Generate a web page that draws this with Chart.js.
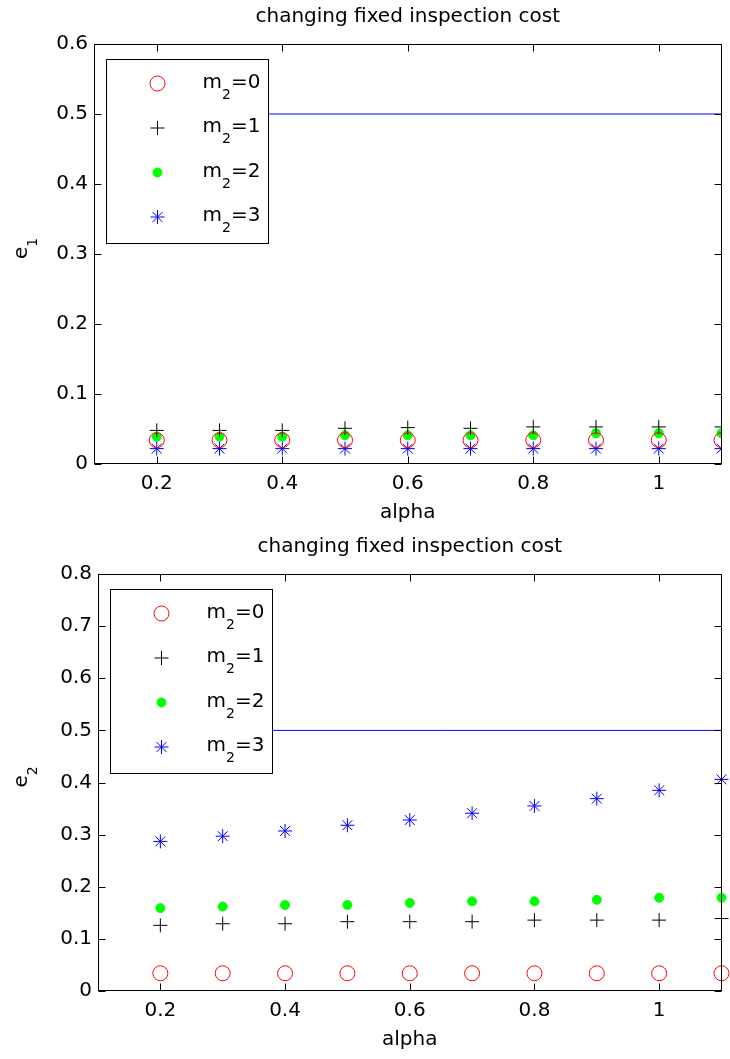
<!DOCTYPE html>
<html>
<head>
<meta charset="utf-8">
<title>changing fixed inspection cost</title>
<script src="https://cdn.jsdelivr.net/npm/chart.js@4.4.1/dist/chart.umd.min.js"></script>
<style>
  body { margin: 0; background: #fff; }
  #wrap { position: relative; width: 730px; height: 1059px; }
  .panel { position: absolute; left: 0; width: 730px; }
  #top-panel { top: 0; height: 530px; }
  #bottom-panel { top: 530px; height: 529px; }
</style>
</head>
<body>
<div id="wrap">
  <div class="panel" id="top-panel"><canvas id="e1-chart" width="730" height="530"></canvas></div>
  <div class="panel" id="bottom-panel"><canvas id="e2-chart" width="730" height="529"></canvas></div>
</div>
<script>
// x values (alpha) shared by both panels
const alphaValues = [0.2, 0.3, 0.4, 0.5, 0.6, 0.7, 0.8, 0.9, 1.0, 1.1];

// e1 per m2 (top panel)
const e1M0 = [0.034, 0.034, 0.034, 0.034, 0.034, 0.034, 0.034, 0.034, 0.034, 0.034];
const e1M1 = [0.048, 0.048, 0.048, 0.051, 0.052, 0.051, 0.053, 0.053, 0.053, 0.053];
const e1M2 = [0.039, 0.039, 0.039, 0.041, 0.041, 0.041, 0.041, 0.044, 0.044, 0.044];
const e1M3 = [0.022, 0.022, 0.022, 0.022, 0.022, 0.022, 0.022, 0.022, 0.022, 0.022];

// e2 per m2 (bottom panel)
const e2M0 = [0.034, 0.034, 0.034, 0.034, 0.034, 0.034, 0.034, 0.034, 0.034, 0.034];
const e2M1 = [0.126, 0.129, 0.129, 0.133, 0.133, 0.133, 0.136, 0.136, 0.136, 0.139];
const e2M2 = [0.159, 0.162, 0.165, 0.165, 0.169, 0.172, 0.172, 0.175, 0.179, 0.179];
const e2M3 = [0.287, 0.297, 0.307, 0.318, 0.328, 0.341, 0.355, 0.369, 0.385, 0.406];

// horizontal reference line at 0.5 (starts under the legend)
const refLineX = [0.2, 1.1];
const refLineY = [0.5, 0.5];

// axis ticks
const xTickValues = [0.2, 0.4, 0.6, 0.8, 1.0];
const xTickLabels = ['0.2', '0.4', '0.6', '0.8', '1'];
const e1TickValues = [0, 0.1, 0.2, 0.3, 0.4, 0.5, 0.6];
const e1TickLabels = ['0', '0.1', '0.2', '0.3', '0.4', '0.5', '0.6'];
const e2TickValues = [0, 0.1, 0.2, 0.3, 0.4, 0.5, 0.6, 0.7, 0.8];
const e2TickLabels = ['0', '0.1', '0.2', '0.3', '0.4', '0.5', '0.6', '0.7', '0.8'];

const seriesNames = ['0', '1', '2', '3'];
const titleText = 'changing fixed inspection cost';

const FONT = '"DejaVu Sans", Verdana, sans-serif';
const mainFont = { family: FONT, size: 20, weight: 'normal' };

// marker look for m2 = 0..3 (circle, plus, dot, star)
const markerStyles = [
    { shape: 'circle', radius: 7.5, color: '#ff0000', fill: 'rgba(0,0,0,0)' },
    { shape: 'cross', radius: 7, color: '#000000', fill: '#000000' },
    { shape: 'circle', radius: 4.5, color: '#00ff00', fill: '#00ff00' },
    { shape: 'star', radius: 7, color: '#0000ff', fill: '#0000ff' }
];

function markerSet(index, ys, clip) {
    const st = markerStyles[index];
    return {
        type: 'scatter',
        label: 'm2=' + seriesNames[index],
        data: alphaValues.map((x, i) => ({ x: x, y: ys[i] })),
        pointStyle: st.shape,
        pointRadius: st.radius,
        pointBorderColor: st.color,
        pointBackgroundColor: st.fill,
        pointBorderWidth: 1,
        showLine: false,
        clip: clip
    };
}

function refLine(color) {
    return {
        type: 'line',
        label: 'ref',
        data: refLineX.map((x, i) => ({ x: x, y: refLineY[i] })),
        borderColor: color,
        borderWidth: 1,
        pointRadius: 0,
        fill: false
    };
}

// MATLAB-like frame, inner ticks, subscript y label and boxed legend
const matlabAxes = {
    id: 'matlabAxes',
    afterDatasetsDraw(chart, args, opts) {
        const ctx = chart.ctx;
        const { left, right, top, bottom } = chart.chartArea;
        const xs = chart.scales.x;
        const ys = chart.scales.y;
        const tl = 7;

        ctx.save();

        // legend box
        const bx = Math.round(left) + 12.5;
        const by = Math.round(top) + 15.5;
        ctx.fillStyle = '#fff';
        ctx.fillRect(bx, by, 162, 184);
        ctx.strokeStyle = '#000';
        ctx.lineWidth = 1;
        ctx.strokeRect(bx, by, 162, 184);
        markerStyles.forEach((st, i) => {
            const cy = by + 24 + i * 44.5;
            ctx.strokeStyle = st.color;
            ctx.fillStyle = st.fill;
            ctx.lineWidth = 1;
            Chart.helpers.drawPoint(ctx, { pointStyle: st.shape, radius: st.radius, borderWidth: 1, rotation: 0 }, bx + 51, cy);
            ctx.fillStyle = '#000';
            ctx.textAlign = 'left';
            ctx.textBaseline = 'alphabetic';
            ctx.font = '20px ' + FONT;
            let tx = bx + 96;
            ctx.fillText('m', tx, cy + 4);
            tx += ctx.measureText('m').width;
            ctx.font = '14px ' + FONT;
            ctx.fillText('2', tx, cy + 15);
            tx += ctx.measureText('2').width;
            ctx.font = '20px ' + FONT;
            ctx.fillText('=' + seriesNames[i], tx, cy + 4);
        });

        // frame
        ctx.strokeStyle = '#000';
        ctx.lineWidth = 1;
        const L = Math.round(left) + 0.5, R = Math.round(right) - 0.5;
        const T = Math.round(top) + 0.5, B = Math.round(bottom) - 0.5;
        ctx.strokeRect(L, T, R - L, B - T);

        // inner ticks
        ctx.beginPath();
        opts.xTicks.forEach(v => {
            const px = Math.round(xs.getPixelForValue(v)) + 0.5;
            ctx.moveTo(px, B); ctx.lineTo(px, B - tl);
            ctx.moveTo(px, T); ctx.lineTo(px, T + tl);
        });
        opts.yTicks.forEach(v => {
            const py = Math.round(ys.getPixelForValue(v)) + 0.5;
            ctx.moveTo(L, py); ctx.lineTo(L + tl, py);
            ctx.moveTo(R, py); ctx.lineTo(R - tl, py);
        });
        ctx.stroke();

        // y label "e" with subscript
        const mid = (top + bottom) / 2;
        ctx.translate(27, mid + 5);
        ctx.rotate(-Math.PI / 2);
        ctx.fillStyle = '#000';
        ctx.textAlign = 'left';
        ctx.textBaseline = 'alphabetic';
        ctx.font = '20px ' + FONT;
        ctx.fillText('e', 0, 0);
        const ew = ctx.measureText('e').width;
        ctx.font = '14px ' + FONT;
        ctx.fillText(opts.sub, ew, 10);

        ctx.restore();
    }
};

function makeOptions(cfg) {
    return {
        responsive: false,
        animation: false,
        events: [],
        layout: { padding: { left: 0, right: 6, top: 0, bottom: 0 } },
        plugins: {
            legend: { display: false },
            tooltip: { enabled: false },
            title: {
                display: true,
                text: titleText,
                color: '#000',
                font: mainFont,
                fullSize: false,
                padding: { top: 5, bottom: 15 }
            },
            matlabAxes: { xTicks: xTickValues, yTicks: cfg.yTicks, sub: cfg.sub }
        },
        scales: {
            x: {
                type: 'linear',
                min: 0.1,
                max: 1.1,
                afterBuildTicks: s => { s.ticks = xTickValues.map(v => ({ value: v })); },
                afterFit: s => { s.height = cfg.xHeight; },
                grid: { display: false, drawTicks: false },
                border: { display: false },
                ticks: {
                    color: '#000',
                    font: mainFont,
                    padding: 8,
                    autoSkip: false,
                    maxRotation: 0,
                    callback: (v, i) => xTickLabels[i]
                },
                title: {
                    display: true,
                    text: 'alpha',
                    color: '#000',
                    font: mainFont,
                    padding: { top: 0, bottom: cfg.alphaPad }
                }
            },
            y: {
                type: 'linear',
                min: 0,
                max: cfg.yMax,
                afterBuildTicks: s => { s.ticks = cfg.yTicks.map(v => ({ value: v })); },
                afterFit: s => { s.width = cfg.yWidth; },
                grid: { display: false, drawTicks: false },
                border: { display: false },
                ticks: {
                    color: '#000',
                    font: mainFont,
                    padding: 6,
                    autoSkip: false,
                    callback: (v, i) => cfg.yLabels[i]
                }
            }
        }
    };
}

// top panel: e1
new Chart(document.getElementById('e1-chart').getContext('2d'), {
    data: {
        datasets: [
            refLine('#0000ff'),
            markerSet(0, e1M0, undefined),
            markerSet(1, e1M1, undefined),
            markerSet(2, e1M2, undefined),
            markerSet(3, e1M3, undefined)
        ]
    },
    options: makeOptions({ yMax: 0.6, yTicks: e1TickValues, yLabels: e1TickLabels, sub: '1', xHeight: 66, yWidth: 94, alphaPad: 5 }),
    plugins: [matlabAxes]
});

// bottom panel: e2
new Chart(document.getElementById('e2-chart').getContext('2d'), {
    data: {
        datasets: [
            refLine('#0000ff'),
            markerSet(0, e2M0, false),
            markerSet(1, e2M1, false),
            markerSet(2, e2M2, false),
            markerSet(3, e2M3, false)
        ]
    },
    options: makeOptions({ yMax: 0.8, yTicks: e2TickValues, yLabels: e2TickLabels, sub: '2', xHeight: 68, yWidth: 98, alphaPad: 7 }),
    plugins: [matlabAxes]
});
</script>
</body>
</html>
